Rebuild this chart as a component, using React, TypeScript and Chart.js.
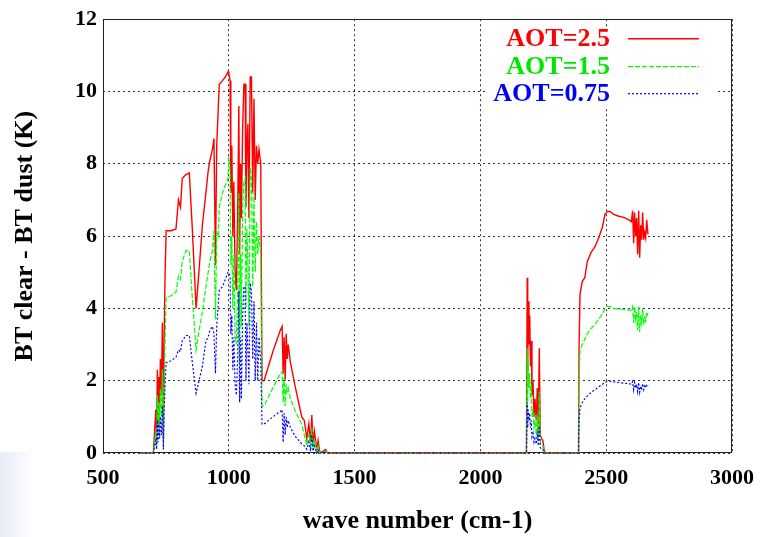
import { useEffect, useRef } from "react";
import { Chart, registerables } from "chart.js";

Chart.register(...registerables);

// Spectral channels (cm-1)
const waveNumbers = [
  650, 700, 705, 710, 713, 716, 719, 722, 725, 728, 732, 736, 740, 743, 747, 751,
  770, 790, 800, 808, 815, 830, 843, 855, 870, 880, 895, 909, 918, 925, 935, 941, 947, 952, 958, 962, 975, 986, 997, 1000,
  1005, 1008, 1012, 1016, 1020, 1025, 1030, 1035, 1040, 1043, 1047, 1050, 1055, 1060, 1065, 1068, 1072, 1076, 1080, 1085,
  1090, 1095, 1100, 1105, 1110, 1115, 1120, 1127, 1132,
  1140, 1175, 1205, 1212, 1216, 1220, 1224, 1228, 1232, 1236, 1245, 1265, 1290, 1300, 1310, 1318, 1325, 1330, 1335, 1340,
  1350, 1355, 1362, 1385, 1392, 1400,
  2183, 2186, 2188, 2190, 2193, 2196, 2199, 2202, 2205, 2209, 2213, 2217, 2222, 2226, 2230, 2234, 2238, 2243, 2248, 2253, 2258,
  2390, 2392, 2396, 2405, 2415, 2425, 2440, 2455, 2470, 2485, 2495, 2505, 2515, 2530, 2550, 2570, 2590, 2600, 2605, 2609,
  2613, 2617, 2621, 2625, 2629, 2633, 2637, 2641, 2645, 2649, 2653, 2657, 2661, 2666,
];

// BT clear - BT dust (K), AOT = 2.5
const btDiffAot25 = [
  0, 0, 0.6, 1.2, 0.3, 2.3, 0.8, 2.1, 1.2, 2.6, 1.6, 3.6, 0.4, 3.2, 5.0, 6.15,
  6.15, 6.2, 7.0, 6.8, 7.6, 7.7, 7.75, 6.2, 4.0, 4.9, 6.3, 7.2, 7.8, 8.1, 8.4, 8.7, 5.2, 8.5, 9.5, 10.2, 10.3, 10.4, 10.55, 10.5,
  10.3, 7.2, 8.5, 6.0, 7.5, 5.0, 4.5, 6.5, 9.6, 5.5, 8.0, 6.5, 9.0, 10.2, 10.2, 6.8, 8.5, 9.1, 6.5, 10.4,
  10.4, 7.2, 9.8, 7.0, 8.5, 8.0, 8.4, 8.0, 2.0,
  2.0, 2.8, 3.4, 3.5, 2.2, 3.2, 2.0, 3.3, 2.6, 3.0, 2.5, 1.8, 1.0, 0.9, 0.4, 0.8, 0.3, 1.05, 0.2, 0.6,
  0.1, 0.35, 0, 0.1, 0, 0,
  0, 4.85, 2.3, 4.2, 3.0, 3.8, 2.4, 3.1, 1.6, 2.0, 1.0, 1.5, 0.9, 1.8, 0.6, 2.9, 0.5, 0.4, 0.35, 0.1, 0,
  0, 2.9, 4.4, 4.75, 4.85, 5.3, 5.55, 5.7, 5.95, 6.25, 6.6, 6.68, 6.68, 6.6, 6.55, 6.52, 6.45, 6.4, 6.7, 5.8,
  6.65, 6.0, 6.5, 5.5, 6.7, 5.4, 6.3, 5.9, 6.65, 5.9, 6.1, 5.95, 6.45, 6.05,
];

// BT clear - BT dust (K), AOT = 1.5
const btDiffAot15 = [
  0, 0, 0.3, 0.6, 0.2, 1.6, 0.5, 1.4, 0.8, 1.8, 1.0, 2.3, 0.3, 2.0, 3.2, 4.3,
  4.35, 4.45, 4.9, 4.8, 5.3, 5.6, 5.6, 4.3, 2.85, 3.3, 3.9, 4.6, 5.0, 5.3, 5.6, 6.15, 3.7, 6.1, 6.0, 6.8, 7.2, 7.4, 7.6, 8.2,
  7.8, 5.2, 6.0, 4.0, 5.5, 3.2, 3.0, 4.4, 7.2, 2.5, 5.5, 3.5, 6.8, 7.5, 7.6, 4.0, 6.2, 5.2, 3.5, 7.9,
  7.6, 4.6, 7.2, 5.0, 6.4, 5.5, 6.0, 5.5, 1.3,
  1.3, 1.8, 2.2, 2.25, 1.4, 2.1, 1.3, 1.9, 1.7, 1.8, 1.5, 1.15, 0.8, 0.5, 0.2, 0.5, 0.15, 0.7, 0.1, 0.4,
  0.05, 0.2, 0, 0.05, 0, 0,
  0, 2.9, 1.4, 2.6, 1.8, 2.2, 1.5, 1.9, 1.0, 1.2, 0.65, 0.9, 0.5, 1.1, 0.4, 1.7, 0.3, 0.25, 0.2, 0.05, 0,
  0, 2.0, 2.85, 3.0, 3.15, 3.3, 3.45, 3.55, 3.7, 3.85, 4.0, 4.05, 4.05, 4.0, 3.98, 3.97, 3.95, 3.95, 4.05, 3.6,
  4.05, 3.7, 3.9, 3.4, 4.05, 3.35, 3.8, 3.6, 4.0, 3.55, 3.75, 3.65, 3.9, 3.8,
];

// BT clear - BT dust (K), AOT = 0.75
const btDiffAot075 = [
  0, 0, 0.2, 0.35, 0.1, 0.9, 0.3, 0.8, 0.4, 1.0, 0.5, 1.3, 0.1, 1.2, 1.9, 2.5,
  2.55, 2.65, 2.85, 2.8, 3.1, 3.25, 3.25, 2.5, 1.65, 1.95, 2.4, 3.1, 3.2, 3.4, 3.5, 3.3, 2.2, 3.5, 4.1, 4.5, 4.6, 4.8, 5.0, 5.0,
  4.9, 3.3, 3.8, 2.3, 3.2, 1.9, 1.6, 2.6, 4.5, 1.4, 3.2, 1.5, 3.8, 4.6, 4.6, 2.0, 3.6, 2.8, 1.9, 4.7,
  4.5, 2.6, 4.2, 2.0, 3.6, 2.0, 3.2, 2.5, 0.8,
  0.8, 1.0, 1.15, 1.2, 0.3, 1.1, 0.5, 1.0, 0.7, 0.9, 0.7, 0.45, 0.25, 0.2, 0.1, 0.3, 0.05, 0.5, 0.05, 0.2,
  0, 0.1, 0, 0.02, 0, 0,
  0, 1.4, 0.7, 1.2, 0.9, 1.1, 0.7, 0.9, 0.45, 0.55, 0.3, 0.4, 0.25, 0.5, 0.2, 0.75, 0.15, 0.1, 0.1, 0.02, 0,
  0, 0.9, 1.25, 1.4, 1.5, 1.58, 1.68, 1.75, 1.83, 1.9, 1.95, 1.98, 1.98, 1.97, 1.95, 1.93, 1.92, 1.9, 1.98, 1.75,
  1.95, 1.8, 1.9, 1.7, 1.95, 1.68, 1.85, 1.78, 1.92, 1.75, 1.85, 1.8, 1.9, 1.85,
];

const seriesLabels = ["AOT=2.5", "AOT=1.5", "AOT=0.75"];
const xTickValues = [500, 1000, 1500, 2000, 2500, 3000];
const yTickValues = [0, 2, 4, 6, 8, 10, 12];
const xTitle = "wave number (cm-1)";
const yTitle = "BT clear - BT dust (K)";

const SERIF = "'Liberation Serif', 'Times New Roman', serif";
const RED = "#ff0000";
const GREEN = "#00ff00";
const BLUE = "#0000ff";
const GREEN_TEXT = "#00e800";
const DASHES = [[], [5, 2], [2, 2]];
const COLORS = [RED, GREEN, BLUE];
const WIDTHS = [1.4, 1.2, 1.2];

const framePlugin = {
  id: "gnuFrame",
  beforeDatasetsDraw(chart: any) {
    const { ctx, chartArea: a } = chart;
    ctx.save();
    ctx.strokeStyle = "#222";
    ctx.lineWidth = 1;
    ctx.setLineDash([]);
    ctx.strokeRect(Math.round(a.left) + 0.5, Math.round(a.top) + 0.5, Math.round(a.width) - 1, Math.round(a.height) - 1);
    ctx.restore();
  },
  afterDraw(chart: any) {
    const { ctx, chartArea: a } = chart;
    ctx.save();
    // legend box (hides grid)
    ctx.fillStyle = "#ffffff";
    ctx.fillRect(a.left + 384, a.top + 9, a.right - 14 - (a.left + 384), 79);
    const rows = [a.top + 19, a.top + 47, a.top + 74];
    const textRight = a.right - 122;
    const lineStart = a.right - 104;
    const lineEnd = a.right - 33;
    ctx.font = `bold 26px ${SERIF}`;
    ctx.textAlign = "right";
    ctx.textBaseline = "middle";
    seriesLabels.forEach((lab, i) => {
      ctx.fillStyle = i === 1 ? GREEN_TEXT : COLORS[i];
      ctx.fillText(lab, textRight, rows[i] + 1);
      ctx.strokeStyle = COLORS[i];
      ctx.lineWidth = WIDTHS[i];
      ctx.setLineDash(DASHES[i]);
      ctx.beginPath();
      ctx.moveTo(lineStart, rows[i] + 0.5);
      ctx.lineTo(lineEnd, rows[i] + 0.5);
      ctx.stroke();
    });
    ctx.restore();
  },
};

export default function App() {
  const canvasRef = useRef<HTMLCanvasElement | null>(null);

  useEffect(() => {
    if (!canvasRef.current) return;
    const seriesValues = [btDiffAot25, btDiffAot15, btDiffAot075];
    const orders = [3, 2, 1];
    const chart = new Chart(canvasRef.current, {
      type: "line",
      data: {
        datasets: seriesValues.map((vals, i) => ({
          label: seriesLabels[i],
          data: waveNumbers.map((x, j) => ({ x, y: vals[j] })),
          borderColor: COLORS[i],
          borderWidth: WIDTHS[i],
          borderDash: DASHES[i],
          pointRadius: 0,
          tension: 0,
          fill: false,
          order: orders[i],
          clip: false,
        })),
      },
      options: {
        responsive: false,
        animation: false,
        devicePixelRatio: 1,
        layout: { padding: { top: 18, right: 30, left: 0, bottom: 0 } },
        plugins: { legend: { display: false }, tooltip: { enabled: false } },
        scales: {
          x: {
            type: "linear",
            min: 500,
            max: 3000,
            afterBuildTicks: (s: any) => {
              s.ticks = xTickValues.map((v) => ({ value: v }));
            },
            afterFit: (s: any) => {
              s.height = 84;
            },
            ticks: {
              autoSkip: false,
              maxRotation: 0,
              padding: 12,
              color: "#000",
              font: { family: SERIF, size: 22, weight: "bold" },
              callback: (v: any) => String(v),
            },
            grid: { color: "rgba(0,0,0,0.8)", lineWidth: 1, drawTicks: false },
            border: { display: false, dash: [2, 3] },
            title: {
              display: true,
              text: xTitle,
              color: "#000",
              font: { family: SERIF, size: 26, weight: "bold", lineHeight: 1 },
              padding: { top: 0, bottom: 3 },
            },
          },
          y: {
            type: "linear",
            min: 0,
            max: 12,
            afterBuildTicks: (s: any) => {
              s.ticks = yTickValues.map((v) => ({ value: v }));
            },
            afterFit: (s: any) => {
              s.width = 103;
            },
            ticks: {
              autoSkip: false,
              padding: 6,
              color: "#000",
              font: { family: SERIF, size: 22, weight: "bold" },
              callback: (v: any) => String(v),
            },
            grid: { color: "rgba(0,0,0,0.8)", lineWidth: 1, drawTicks: false },
            border: { display: false, dash: [2, 3] },
            title: {
              display: true,
              text: yTitle,
              color: "#000",
              font: { family: SERIF, size: 26, weight: "bold", lineHeight: 1 },
              padding: { top: 12, bottom: 0 },
            },
          },
        },
      },
      plugins: [framePlugin],
    });
    return () => chart.destroy();
  }, []);

  return (
    <div style={{ position: "absolute", left: 0, top: 0, width: 766, height: 537, background: "#fff" }}>
      <div
        style={{
          position: "absolute",
          left: 0,
          top: 452,
          width: 34,
          height: 85,
          background: "linear-gradient(to right, #e8ebf7, rgba(255,255,255,0))",
        }}
      />
      <canvas ref={canvasRef} width={766} height={537} style={{ position: "absolute", left: 0, top: 0 }} />
    </div>
  );
}
